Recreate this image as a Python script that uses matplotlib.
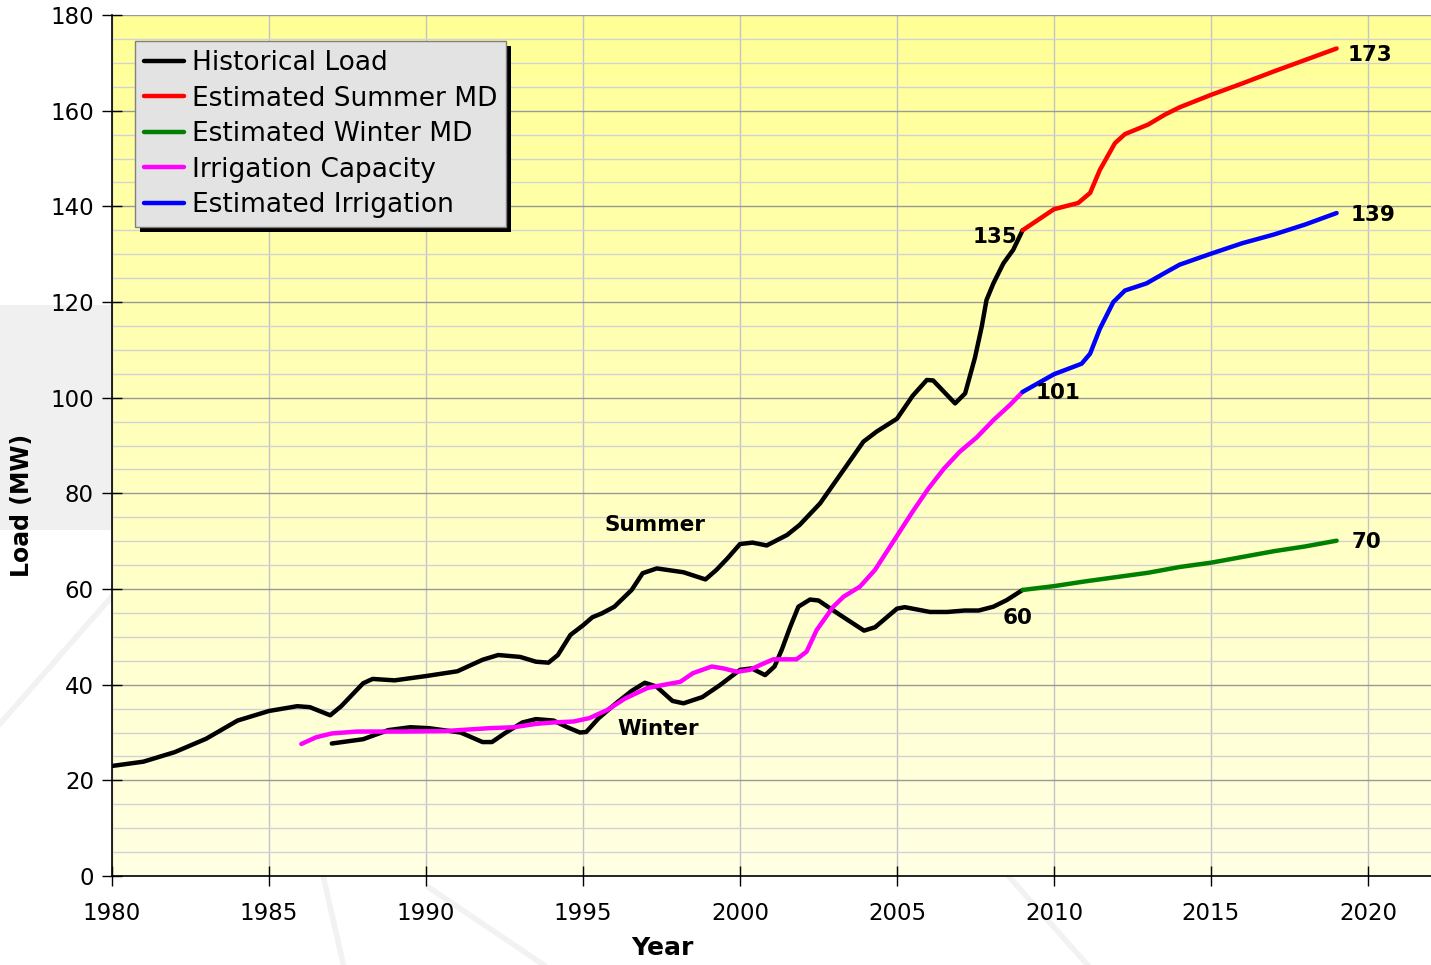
import numpy as np
import matplotlib
matplotlib.use("Agg")
import matplotlib.pyplot as plt
from matplotlib.patches import Rectangle
from matplotlib.transforms import IdentityTransform
from matplotlib.ticker import MultipleLocator

# historical summer peak load
summer_yr = [1980, 1981, 1982, 1983, 1984, 1985, 1985.9, 1986.3, 1986.95, 1987.3,
             1988.0, 1988.3, 1989.0, 1990.0, 1991.0, 1991.8, 1992.3, 1993.0, 1993.5,
             1993.9, 1994.2, 1994.6, 1995.0, 1995.3, 1995.6, 1996.0, 1996.55, 1996.9,
             1997.35, 1998.2, 1998.9, 1999.25, 1999.6, 2000.0, 2000.4, 2000.85,
             2001.5, 2001.9, 2002.55, 2003.3, 2003.93, 2004.35, 2005.0, 2005.5,
             2005.95, 2006.15, 2006.85, 2007.17, 2007.48, 2007.7, 2007.85, 2008.07,
             2008.39, 2008.7, 2009.0]
summer_mw = [23.0, 23.9, 25.9, 28.7, 32.5, 34.5, 35.5, 35.3, 33.6, 35.5,
             40.3, 41.2, 40.9, 41.8, 42.8, 45.2, 46.2, 45.8, 44.8,
             44.6, 46.2, 50.4, 52.4, 54.1, 54.9, 56.3, 59.8, 63.3,
             64.3, 63.5, 62.0, 64.0, 66.4, 69.4, 69.7, 69.1,
             71.3, 73.4, 77.9, 84.9, 90.8, 92.9, 95.6, 100.4,
             103.7, 103.6, 98.8, 100.9, 108.3, 114.9, 120.4, 123.9,
             128.1, 130.9, 135.0]

# historical winter peak load
winter_yr = [1987.0, 1988.0, 1988.8, 1989.5, 1990.1, 1991.1, 1991.8, 1992.1, 1992.5,
             1993.07, 1993.5, 1994.06, 1994.5, 1994.9, 1995.1, 1995.5, 1996.05,
             1996.55, 1996.97, 1997.34, 1997.85, 1998.2, 1998.8, 1999.36, 2000.0,
             2000.37, 2000.8, 2001.1, 2001.33, 2001.6, 2001.86, 2002.23, 2002.5,
             2003.18, 2003.95, 2004.3, 2005.0, 2005.25, 2006.05, 2006.6, 2007.15,
             2007.6, 2008.07, 2008.5, 2009.0]
winter_mw = [27.7, 28.6, 30.5, 31.1, 30.9, 30.0, 28.0, 28.0, 29.8,
             32.1, 32.8, 32.5, 31.1, 30.0, 30.1, 33.0, 36.1,
             38.7, 40.4, 39.6, 36.6, 36.1, 37.4, 39.9, 43.1,
             43.4, 42.0, 43.8, 47.3, 52.1, 56.3, 57.8, 57.6,
             54.6, 51.3, 52.0, 55.9, 56.2, 55.2, 55.2, 55.5,
             55.5, 56.3, 57.7, 59.8]

# irrigation capacity
irr_yr = [1986.03, 1986.5, 1987.0, 1987.8, 1989.2, 1990.6, 1992.0, 1992.8, 1993.5,
          1994.06, 1994.7, 1995.2, 1995.77, 1996.34, 1997.05, 1997.6, 1998.1,
          1998.5, 1999.1, 1999.47, 1999.9, 2000.32, 2000.64, 2001.06, 2001.8,
          2002.12, 2002.44, 2002.97, 2003.3, 2003.82, 2004.3, 2004.88, 2005.5,
          2006.0, 2006.5, 2007.0, 2007.54, 2008.07, 2008.6, 2009.0]
irr_mw = [27.6, 29.0, 29.8, 30.2, 30.2, 30.3, 30.9, 31.1, 31.8,
          32.1, 32.3, 33.0, 34.7, 37.1, 39.3, 40.0, 40.6,
          42.4, 43.8, 43.4, 42.7, 43.1, 44.1, 45.3, 45.3,
          46.9, 51.4, 56.3, 58.4, 60.5, 64.0, 69.9, 76.2,
          81.0, 85.2, 88.7, 91.7, 95.3, 98.5, 101.2]

# forecasts
est_summer_yr = [2009.0, 2010.0, 2010.77, 2011.15, 2011.46, 2011.94, 2012.26, 2013.0,
                 2013.54, 2014.0, 2015.0, 2016.0, 2017.0, 2018.0, 2019.0]
est_summer_mw = [135.0, 139.4, 140.7, 142.8, 147.6, 153.2, 155.1, 157.1,
                 159.2, 160.7, 163.3, 165.7, 168.2, 170.6, 173.0]

est_irr_yr = [2009.0, 2010.0, 2010.4, 2010.88, 2011.15, 2011.46, 2011.89, 2012.26,
              2012.95, 2013.48, 2014.0, 2015.0, 2016.0, 2017.0, 2018.0, 2019.0]
est_irr_mw = [101.2, 104.9, 105.9, 107.1, 109.2, 114.4, 120.0, 122.4,
              123.9, 125.9, 127.8, 130.1, 132.3, 134.1, 136.2, 138.6]

est_winter_yr = [2009, 2010, 2011, 2012, 2013, 2014, 2015, 2016, 2017, 2018, 2019]
est_winter_mw = [59.8, 60.6, 61.6, 62.5, 63.4, 64.6, 65.5, 66.7, 67.9, 68.9, 70.1]

# value labels: (text, year, MW)
value_labels = [("135", 2008.12, 133.6), ("101", 2010.13, 101.0), ("60", 2008.85, 53.9),
                ("173", 2020.06, 171.6), ("139", 2020.16, 138.2), ("70", 2019.94, 69.8)]
series_labels = [("Summer", 1997.29, 73.4), ("Winter", 1997.39, 30.7)]

W, H = 1431, 965
fig = plt.figure(figsize=(W / 100, H / 100), dpi=100)
fig.patch.set_facecolor("white")

# faint gray watermark behind the chart
fig.patches.append(Rectangle((0, (H - 530) / H), 112 / W, 225 / H, transform=fig.transFigure,
                             facecolor="#f0f0f0", edgecolor="none", zorder=0))
for xs, ys in [((0.0, 0.16), (0.25, 0.52)), ((0.16, 0.24), (0.52, 0.0)),
               ((0.30, 0.38), (0.08, 0.0)), ((0.70, 0.76), (0.10, 0.0))]:
    fig.add_artist(plt.Line2D(xs, ys, transform=fig.transFigure, color="#f2f2f2", lw=4, zorder=0))

ax = fig.add_axes([112 / W, (H - 876) / H, (W - 112) / W, 861 / H])
ax.set_zorder(1)
ax.patch.set_alpha(0)

xmin, xmax = 1980, 1980 + (W - 112) / 31.4
ax.set_xlim(xmin, xmax)
ax.set_ylim(0, 180)

# yellow gradient background
grad = np.linspace(0, 1, 256).reshape(-1, 1)
top = np.array([255, 255, 150]) / 255
bottom = np.array([255, 255, 228]) / 255
img = bottom + (top - bottom) * grad[:, :, None]
ax.imshow(img, origin="lower", extent=[xmin, xmax, 0, 180], aspect="auto", zorder=0)

# grid
ax.xaxis.set_major_locator(MultipleLocator(5))
ax.yaxis.set_major_locator(MultipleLocator(20))
ax.yaxis.set_minor_locator(MultipleLocator(5))
ax.grid(axis="x", which="major", color="#c4c4c4", lw=1.0, zorder=1)
ax.grid(axis="y", which="minor", color="#d2d2d2", lw=1.0, zorder=1)
ax.grid(axis="y", which="major", color="#999999", lw=1.0, zorder=1)
ax.set_axisbelow(True)

for s in ["top", "right"]:
    ax.spines[s].set_visible(False)
for s in ["left", "bottom"]:
    ax.spines[s].set_color("black")
    ax.spines[s].set_linewidth(1.2)
    ax.spines[s].set_zorder(3)

ax.tick_params(which="major", direction="inout", length=14, width=1, labelsize=16.5,
               colors="black", pad=6)
ax.tick_params(which="minor", length=0)
ax.tick_params(axis="x", pad=12)

lw = 3.2
style = dict(lw=lw, zorder=4, solid_capstyle="round", solid_joinstyle="round")
ax.plot(summer_yr, summer_mw, color="black", label="Historical Load", **style)
ax.plot(winter_yr, winter_mw, color="black", **style)
ax.plot(est_summer_yr, est_summer_mw, color="#ff0000", label="Estimated Summer MD", **style)
ax.plot(est_winter_yr, est_winter_mw, color="#008000", label="Estimated Winter MD", **style)
ax.plot(irr_yr, irr_mw, color="#ff00ff", label="Irrigation Capacity", **style)
ax.plot(est_irr_yr, est_irr_mw, color="#0000ff", label="Estimated Irrigation", **style)

for txt, x, y in value_labels + series_labels:
    ax.text(x, y, txt, fontsize=15.5, fontweight="bold", ha="center", va="center", zorder=5)

# axis titles sit off-centre in the original
ax.set_xlabel("Year", fontsize=18, fontweight="bold")
ax.xaxis.set_label_coords((662 - 112) / 1319, -72 / 861)
ax.set_ylabel("Load (MW)", fontsize=17, fontweight="bold")
ax.yaxis.set_label_coords(-90 / 1319, (876 - 505) / 861)
ax.yaxis.label.set_va("center")
ax.xaxis.label.set_va("center")

leg = ax.legend(loc="upper left", bbox_to_anchor=(23 / 1319, 1 - 26 / 861), borderaxespad=0,
                fontsize=19, frameon=True, fancybox=False, handlelength=1.5,
                handletextpad=0.3, labelspacing=0.36, borderpad=0.35)
frame = leg.get_frame()
frame.set_facecolor("#e3e3e3")
frame.set_edgecolor("#808080")
frame.set_linewidth(1.0)
frame.set_alpha(1)
leg.set_zorder(6)

# black drop shadow under the legend box
fig.canvas.draw()
bb = leg.get_window_extent()
ax.add_patch(Rectangle((bb.x0 + 5, bb.y0 - 5), bb.width, bb.height, transform=IdentityTransform(),
                       facecolor="black", edgecolor="none", zorder=5.5, clip_on=False))

fig.savefig("out.png", dpi=100)
